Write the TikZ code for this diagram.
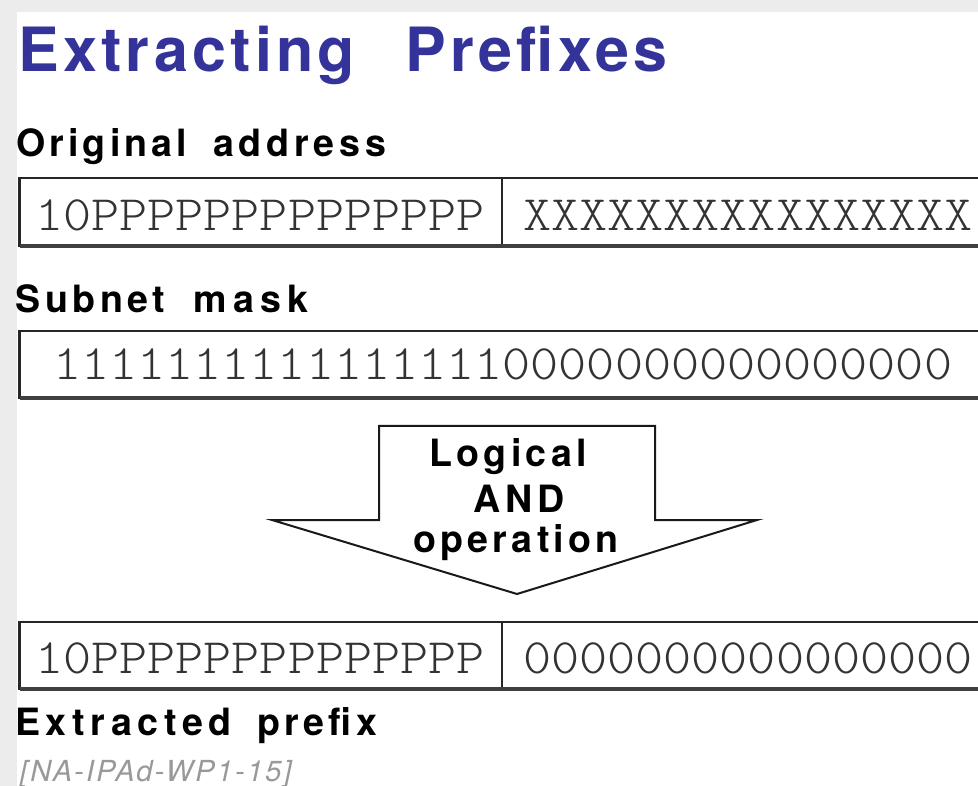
\documentclass[tikz,border=0pt]{standalone}
\usepackage{fontspec}
\usepackage{graphicx}
\newfontfamily\hvfont{TeX Gyre Heros}
% one word set with its own tracking (percent of the font size)
\newcommand\tracked[2]{{\addfontfeature{LetterSpace=#1}#2}}
% light typewriter digits, widened a little so each cell is about 28pt
\newcommand\bitfont{\fontfamily{lmtt}\fontseries{l}\fontshape{n}\fontsize{49.5}{56}\selectfont}
\newcommand\bitrow[1]{\scalebox{1.081}[1]{#1}}
\definecolor{framegray}{RGB}{236,236,236}
\definecolor{headblue}{RGB}{51,51,153}
\tikzset{
  heading/.style={font=\hvfont\bfseries\fontsize{61}{70}\selectfont, text=headblue, inner sep=0pt, anchor=base west},
  fieldlabel/.style={font=\hvfont\bfseries\fontsize{37.6}{44}\selectfont, inner sep=0pt, anchor=base west},
  bits/.style={font=\bitfont, text=black!80, inner sep=0pt, anchor=base west},
  regbox/.style={draw=black!85, line width=2.2pt},
  regfloor/.style={draw=black!75, line width=3.4pt},
  oplabel/.style={font=\hvfont\bfseries\fontsize{37.6}{44}\selectfont, inner sep=0pt, anchor=base},
  andarrow/.style={draw=black!90, line width=2pt, fill=white, line join=miter},
  source/.style={font=\hvfont\itshape\fontsize{29}{34}\selectfont, text=black!40, inner sep=0pt, anchor=base west},
}
\begin{document}
\begin{tikzpicture}[x=1pt,y=-1pt]
  \useasboundingbox (0,0) rectangle (978,786);
  % page frame
  \fill[framegray] (0,0) rectangle (978,786);
  \fill[white] (17,12) rectangle (978,786);

  % title
  \node[heading] (title) at (18,72)
    {\tracked{7}{Extracting}\hspace{50pt}\tracked{7}{Prefixes}};

  % registers: outlines, dividers and heavier bottom edges
  \begin{scope}
    \clip (0,0) rectangle (978,786);
    \draw[regbox] (19.5,178) rectangle (995,246);
    \draw[regbox] (502,178) -- (502,246);
    \draw[regfloor] (19.5,246) -- (995,246);
    \draw[regbox] (19.5,331) rectangle (995,398);
    \draw[regfloor] (19.5,398) -- (995,398);
    \draw[regbox] (19.5,622) rectangle (995,689);
    \draw[regbox] (502,622) -- (502,689);
    \draw[regfloor] (19.5,689) -- (995,689);
  \end{scope}

  % original address register
  \node[fieldlabel] (addrlabel) at (16,157) {\tracked{11}{Original}};
  \node[fieldlabel] (addrlabelb) at (213,157) {\tracked{12.7}{address}};
  \node[bits] (addrprefix) at (35,231) {\bitrow{10PPPPPPPPPPPPPP}};
  \node[bits] (addrhost) at (523,231) {\bitrow{XXXXXXXXXXXXXXXX}};

  % subnet mask register
  \node[fieldlabel] (masklabel) at (15.5,313) {\tracked{12}{Subnet}};
  \node[fieldlabel] (masklabelb) at (193,313) {\tracked{17}{mask}};
  \node[bits] (maskbits) at (53,380) {\bitrow{11111111111111110000000000000000}};

  % AND operation arrow
  \draw[andarrow] (379,426) -- (655,426) -- (655,520) -- (757,520)
    -- (517,594) -- (272,520) -- (379,520) -- cycle;
  \node[oplabel] (oplogical) at (508,467) {\tracked{11.5}{Logical}};
  \node[oplabel] (opand) at (519,512) {\tracked{12}{AND}};
  \node[oplabel] (opname) at (516,552) {\tracked{11.3}{operation}};

  % extracted prefix register
  \node[bits] (resprefix) at (35,673) {\bitrow{10PPPPPPPPPPPPPP}};
  \node[bits] (reshost) at (523,673) {\bitrow{0000000000000000}};
  \node[fieldlabel] (reslabel) at (15,735) {\tracked{15}{Extracted}};
  \node[fieldlabel] (reslabelb) at (257.6,735) {\tracked{11}{prefix}};

  % source tag
  \node[source] (srctag) at (20,781) {\tracked{7.5}{[NA-IPAd-WP1-15]}};
\end{tikzpicture}
\end{document}
